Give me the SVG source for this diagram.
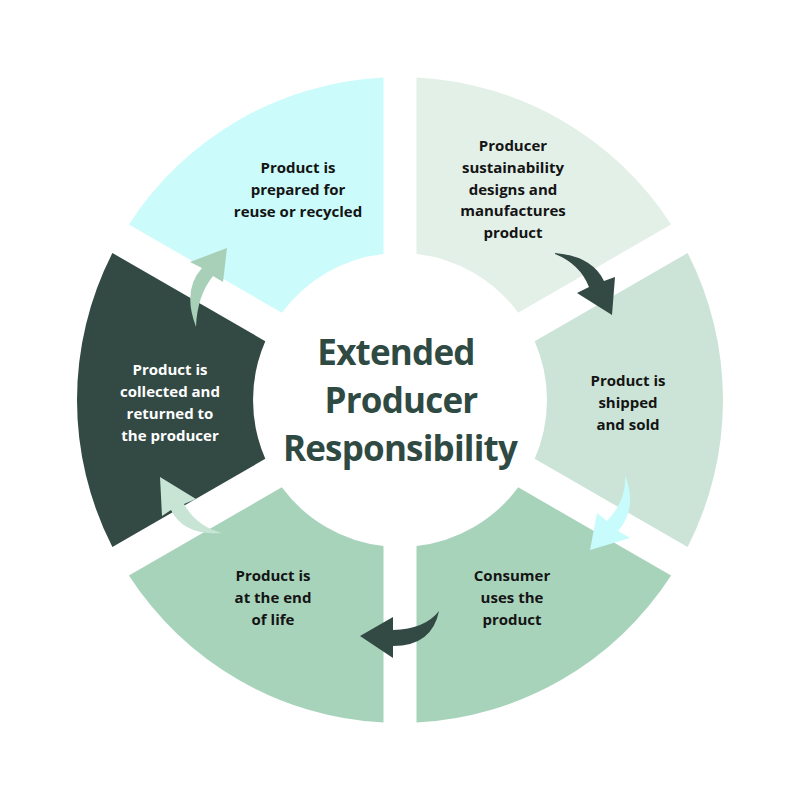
<svg xmlns="http://www.w3.org/2000/svg" width="800" height="800" viewBox="0 0 800 800">
<style>
.lbl{font-family:"Open Sans","Noto Sans","Liberation Sans",sans-serif;font-weight:700;font-size:15px;fill:#141414;text-anchor:middle}
.wht{fill:#ffffff}
.title{font-family:"Open Sans","Noto Sans","Liberation Sans",sans-serif;font-weight:700;font-size:35px;letter-spacing:-0.8px;fill:#2f4a43;text-anchor:middle}
</style>
<rect width="800" height="800" fill="#ffffff"/>
<g id="node-top-left">
<path d="M 128.9 224.4 A 323 323 0 0 1 383.5 77.4 L 383.5 253.9 A 147 147 0 0 0 281.8 312.7 Z" fill="#cbfbfa"/>
<text class="lbl"><tspan x="298" y="173">Product is</tspan><tspan x="298" y="195">prepared for</tspan><tspan x="298" y="217">reuse or recycled</tspan></text>
</g>
<g id="node-top-right">
<path d="M 416.5 77.4 A 323 323 0 0 1 671.1 224.4 L 518.2 312.7 A 147 147 0 0 0 416.5 253.9 Z" fill="#e3f0e8"/>
<text class="lbl"><tspan x="513" y="151">Producer</tspan><tspan x="513" y="173">sustainability</tspan><tspan x="513" y="195">designs and</tspan><tspan x="513" y="216">manufactures</tspan><tspan x="513" y="238">product</tspan></text>
</g>
<g id="node-right">
<path d="M 687.6 253.0 A 323 323 0 0 1 687.6 547.0 L 534.7 458.8 A 147 147 0 0 0 534.7 341.2 Z" fill="#cce4d7"/>
<text class="lbl"><tspan x="628" y="386">Product is</tspan><tspan x="628" y="408">shipped</tspan><tspan x="628" y="430">and sold</tspan></text>
</g>
<g id="node-bottom-right">
<path d="M 671.1 575.6 A 323 323 0 0 1 416.5 722.6 L 416.5 546.1 A 147 147 0 0 0 518.2 487.3 Z" fill="#a8d3bb"/>
<text class="lbl"><tspan x="512" y="581">Consumer</tspan><tspan x="512" y="603">uses the</tspan><tspan x="512" y="625">product</tspan></text>
</g>
<g id="node-bottom-left">
<path d="M 383.5 722.6 A 323 323 0 0 1 128.9 575.6 L 281.8 487.3 A 147 147 0 0 0 383.5 546.1 Z" fill="#a8d3bb"/>
<text class="lbl"><tspan x="273" y="581">Product is</tspan><tspan x="273" y="603">at the end</tspan><tspan x="273" y="625">of life</tspan></text>
</g>
<g id="node-left">
<path d="M 112.4 547.0 A 323 323 0 0 1 112.4 253.0 L 265.3 341.2 A 147 147 0 0 0 265.3 458.8 Z" fill="#334944"/>
<text class="lbl wht"><tspan x="170" y="375">Product is</tspan><tspan x="170" y="397">collected and</tspan><tspan x="170" y="419">returned to</tspan><tspan x="170" y="441">the producer</tspan></text>
</g>
<g id="node-center">
<text class="title"><tspan x="396" y="365">Extended</tspan><tspan x="401" y="413">Producer</tspan><tspan x="400" y="461">Responsibility</tspan></text>
</g>
<g id="connectors">
<path d="M 555 253 Q 592 256 604 281 L 615 277 L 612 315 L 577 293 L 589 287 Q 580 264 555 254 Z" fill="#334944"/>
<path d="M 625 475 Q 638 508 618 531 L 630 538 L 590 550 L 597 513 L 607 521 Q 627 500 625 475 Z" fill="#c8fbfb"/>
<path d="M 439 611 Q 432 646 393 646 L 393 658 L 360 636 L 393 617 L 393 630 Q 425 629 439 611 Z" fill="#334944"/>
<path d="M 222 533 Q 184 536 171 510 L 162 516 L 160 477 L 196 499 L 184 504 Q 196 526 222 533 Z" fill="#c8e4d5"/>
<path d="M 196 327 Q 182 290 202 268 L 190 262 L 227 248 L 223 282 L 213 276 Q 197 296 196 327 Z" fill="#a8cfb7"/>
</g>
</svg>
